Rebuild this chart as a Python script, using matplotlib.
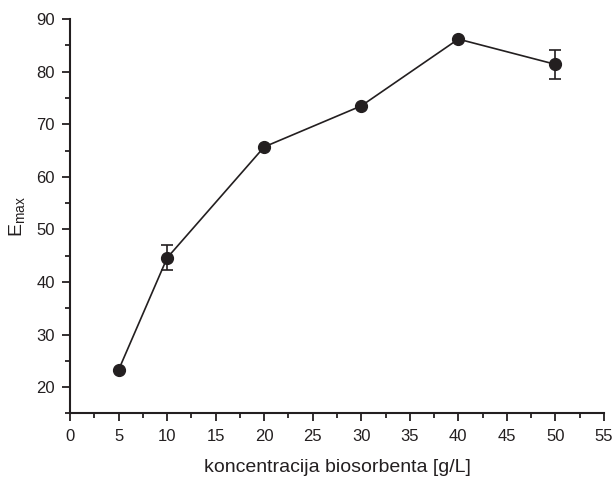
import matplotlib
matplotlib.use("Agg")
import matplotlib.pyplot as plt
from matplotlib.ticker import MultipleLocator

plt.rcParams['font.family'] = ['Liberation Sans', 'DejaVu Sans']

# podaci
koncentracija = [5, 10, 20, 30, 40, 50]
e_max = [23.3, 44.6, 65.7, 73.5, 86.2, 81.4]
greska = [0, 2.35, 0, 0, 0, 2.75]

boja = '#231f20'

fig = plt.figure(figsize=(6.15, 4.78), dpi=100)
ax = fig.add_axes([0.114, 0.135, 0.868, 0.825])

ax.errorbar(koncentracija, e_max, yerr=greska, color=boja, lw=1.2,
            marker='o', ms=8.5, capsize=4, capthick=1.2, elinewidth=1.2)

ax.set_xlim(0, 55)
ax.set_ylim(15, 90)
ax.xaxis.set_major_locator(MultipleLocator(5))
ax.xaxis.set_minor_locator(MultipleLocator(2.5))
ax.yaxis.set_major_locator(MultipleLocator(10))
ax.yaxis.set_minor_locator(MultipleLocator(5))

for s in ['top', 'right']:
    ax.spines[s].set_visible(False)
for s in ['left', 'bottom']:
    ax.spines[s].set_linewidth(1.5)
    ax.spines[s].set_color(boja)

ax.tick_params(which='major', length=6, width=1.3, labelsize=12, colors=boja, pad=5)
ax.tick_params(which='minor', length=3.5, width=1.3, colors=boja)

ax.set_xlabel('koncentracija biosorbenta [g/L]', fontsize=14, color=boja, labelpad=11)
ax.set_ylabel('E$_\\mathregular{max}$', fontsize=14, color=boja, labelpad=6)

fig.savefig('out.png', dpi=100)
